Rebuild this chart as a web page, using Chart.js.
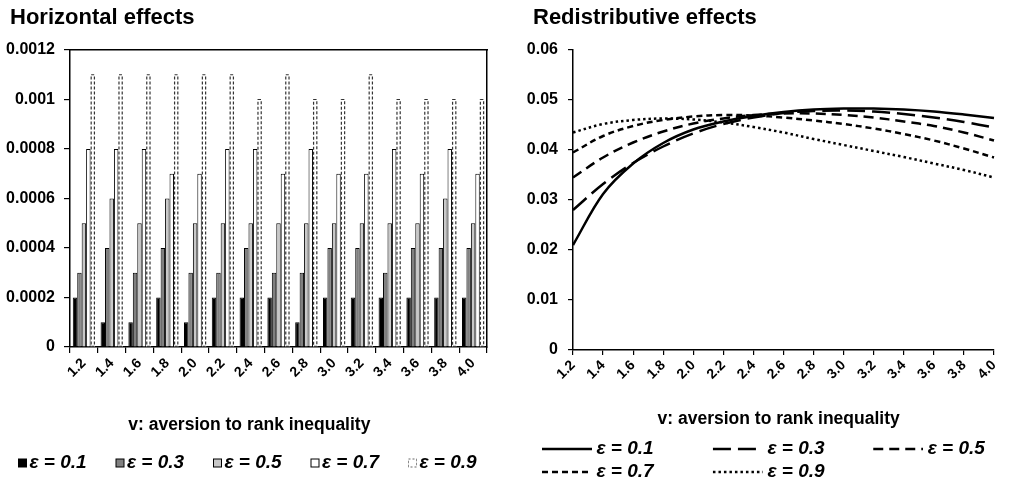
<!DOCTYPE html>
<html>
<head>
<meta charset="utf-8">
<script src="https://cdn.jsdelivr.net/npm/chart.js@4.4.1/dist/chart.umd.min.js"></script>
<style>
  html, body { margin: 0; padding: 0; background: #fff; overflow: hidden; }
  #wrap { position: relative; width: 1015px; height: 486px; }
  .panel { position: absolute; top: 0; height: 486px; }
  #left { left: 0; width: 510px; }
  #right { left: 510px; width: 505px; }
</style>
</head>
<body>
<div id="wrap">
  <div class="panel" id="left"><canvas id="hChart"></canvas></div>
  <div class="panel" id="right"><canvas id="rChart"></canvas></div>
</div>
<script>
// categories: v, aversion to rank inequality
const categories = ['1.2', '1.4', '1.6', '1.8', '2.0', '2.2', '2.4', '2.6', '2.8', '3.0', '3.2', '3.4', '3.6', '3.8', '4.0'];
const epsLabels = ['ε = 0.1', 'ε = 0.3', 'ε = 0.5', 'ε = 0.7', 'ε = 0.9'];

// horizontal effects (bars)
const hEps01 = [0.0002, 0.0001, 0.0001, 0.0002, 0.0001, 0.0002, 0.0002, 0.0002, 0.0001, 0.0002, 0.0002, 0.0002, 0.0002, 0.0002, 0.0002];
const hEps03 = [0.0003, 0.0004, 0.0003, 0.0004, 0.0003, 0.0003, 0.0004, 0.0003, 0.0003, 0.0004, 0.0004, 0.0003, 0.0004, 0.0004, 0.0004];
const hEps05 = [0.0005, 0.0006, 0.0005, 0.0006, 0.0005, 0.0005, 0.0005, 0.0005, 0.0005, 0.0005, 0.0005, 0.0005, 0.0005, 0.0006, 0.0005];
const hEps07 = [0.0008, 0.0008, 0.0008, 0.0007, 0.0007, 0.0008, 0.0008, 0.0007, 0.0008, 0.0007, 0.0007, 0.0008, 0.0007, 0.0008, 0.0007];
const hEps09 = [0.0011, 0.0011, 0.0011, 0.0011, 0.0011, 0.0011, 0.0010, 0.0011, 0.0010, 0.0010, 0.0011, 0.0010, 0.0010, 0.0010, 0.0010];
const hTicks = [0, 0.0002, 0.0004, 0.0006, 0.0008, 0.001, 0.0012];

// redistributive effects (lines)
const rEps01 = [0.0210, 0.0312, 0.0373, 0.0414, 0.0441, 0.0457, 0.0468, 0.0476, 0.0481, 0.0483, 0.0483, 0.0481, 0.0477, 0.0471, 0.0464];
const rEps03 = [0.0280, 0.0332, 0.0374, 0.0407, 0.0433, 0.0452, 0.0465, 0.0474, 0.0478, 0.0479, 0.0477, 0.0472, 0.0465, 0.0456, 0.0445];
const rEps05 = [0.0345, 0.0385, 0.0415, 0.0437, 0.0453, 0.0463, 0.0470, 0.0473, 0.0473, 0.0470, 0.0465, 0.0457, 0.0448, 0.0435, 0.0419];
const rEps07 = [0.0395, 0.0428, 0.0448, 0.0460, 0.0467, 0.0470, 0.0469, 0.0465, 0.0459, 0.0452, 0.0443, 0.0432, 0.0419, 0.0403, 0.0385];
const rEps09 = [0.0435, 0.0452, 0.0460, 0.0463, 0.0461, 0.0455, 0.0446, 0.0435, 0.0422, 0.0410, 0.0398, 0.0386, 0.0373, 0.0360, 0.0345];
const rTicks = [0, 0.01, 0.02, 0.03, 0.04, 0.05, 0.06];

const FONT = '"Liberation Sans", Arial, sans-serif';
Chart.defaults.font.family = FONT;
Chart.defaults.color = '#000';

const barFills = ['#000000', '#808080', '#c8c8c8', '#ffffff', '#ffffff'];
const lineDashes = [[], [18, 7], [10, 6], [6, 4], [2.5, 3]];
const lineWidths = [2.5, 2.5, 2.5, 2.5, 2.5];
const axisTitle = 'v: aversion to rank inequality';

// legend items get trailing spaces so the columns land where the original had them
const meas = document.createElement('canvas').getContext('2d');
meas.font = 'italic bold 19px ' + FONT;
function padTo(text, width) {
    const sp = meas.measureText(' ').width;
    const n = Math.max(0, Math.round((width - meas.measureText(text).width) / sp));
    return text + ' '.repeat(n);
}

function boxMarker(fill, dashed) {
    const c = document.createElement('canvas');
    c.width = 17; c.height = 11;
    const g = c.getContext('2d');
    g.fillStyle = fill;
    g.fillRect(7, 1, 9, 9);
    g.strokeStyle = dashed ? '#666' : '#000';
    g.lineWidth = 1;
    if (dashed) g.setLineDash([2, 2]);
    g.strokeRect(7.5, 1.5, 8, 8);
    return c;
}

function lineMarker(dash, width) {
    const c = document.createElement('canvas');
    c.width = 68; c.height = 8;
    const g = c.getContext('2d');
    g.strokeStyle = '#000';
    g.lineWidth = width;
    g.setLineDash(dash);
    g.beginPath();
    g.moveTo(18, 4);
    g.lineTo(68, 4);
    g.stroke();
    return c;
}

// dashed outline for the eps = 0.9 bars
const dashedBars = {
    id: 'dashedBars',
    afterDatasetsDraw(chart) {
        const meta = chart.getDatasetMeta(4);
        const ctx = chart.ctx;
        ctx.save();
        ctx.strokeStyle = '#333';
        ctx.lineWidth = 1.2;
        ctx.setLineDash([3, 2]);
        meta.data.forEach(bar => {
            const p = bar.getProps(['x', 'y', 'base', 'width'], true);
            ctx.strokeRect(p.x - p.width / 2 + 0.6, p.y, p.width - 1.2, p.base - p.y);
        });
        ctx.restore();
    }
};

// nudge the chart title right of the y-axis labels
const titleShift = {
    id: 'titleShift',
    afterLayout(chart, args, opts) {
        const t = chart.titleBlock;
        if (t && opts.dx) { t.left += opts.dx; t.right += opts.dx; }
    }
};

const tickFmt = v => String(parseFloat(Number(v).toFixed(4)));

// ---------- Horizontal effects ----------
const hMarkers = barFills.map((f, i) => boxMarker(f, i === 4));
new Chart(document.getElementById('hChart'), {
    type: 'bar',
    data: {
        labels: categories,
        datasets: [hEps01, hEps03, hEps05, hEps07, hEps09].map((d, i) => ({
            label: epsLabels[i],
            data: d,
            backgroundColor: barFills[i],
            borderColor: '#000',
            borderWidth: i === 4 ? 0 : 1,
            categoryPercentage: 0.8,
            barPercentage: 1
        }))
    },
    options: {
        responsive: true,
        maintainAspectRatio: false,
        animation: false,
        layout: { padding: { left: 5, right: 0, top: 4.3, bottom: 3.5 } },
        plugins: {
            titleShift: { dx: 5 },
            title: {
                display: true, text: 'Horizontal effects', align: 'start', color: '#000',
                font: { size: 22, weight: 'bold' }, padding: { top: 0, bottom: 9.5 }
            },
            legend: {
                position: 'bottom', align: 'start',
                labels: {
                    usePointStyle: true, pointStyleWidth: 1, padding: 14, color: '#000',
                    font: { size: 19, style: 'italic', weight: 'bold' },
                    generateLabels: chart => chart.data.datasets.map((ds, i) => ({
                        text: i < 4 ? padTo(ds.label, 75.5) : ds.label,
                        pointStyle: hMarkers[i],
                        fillStyle: ds.backgroundColor,
                        strokeStyle: '#000',
                        lineWidth: 0,
                        fontColor: '#000',
                        hidden: false,
                        datasetIndex: i
                    }))
                }
            },
            tooltip: { enabled: false }
        },
        scales: {
            x: {
                grid: { offset: true, drawOnChartArea: false, tickLength: 6, color: '#000', lineWidth: 1.2 },
                border: { color: '#000', width: 1.5 },
                ticks: { autoSkip: false, minRotation: 45, maxRotation: 45, padding: 2, color: '#000', font: { size: 14, weight: 'bold' } },
                title: { display: true, text: axisTitle + ' '.repeat(12), color: '#000', font: { size: 17.5, weight: 'bold' }, padding: { top: 0, bottom: 4 } },
                afterFit: s => { s.height = 92.5; }
            },
            xTop: {
                position: 'top',
                grid: { display: false },
                border: { display: true, color: '#000', width: 1.5 },
                ticks: { display: false },
                afterFit: s => { s.height = 9.8; }
            },
            y: {
                min: 0, max: 0.0012,
                grid: { drawOnChartArea: false, tickLength: 6, color: '#000', lineWidth: 1.2 },
                border: { color: '#000', width: 1.5 },
                ticks: { padding: 9, color: '#000', font: { size: 16, weight: 'bold' }, callback: tickFmt },
                afterBuildTicks: s => { s.ticks = hTicks.map(v => ({ value: v })); },
                afterFit: s => { s.width = 65; }
            },
            yRight: {
                position: 'right',
                grid: { display: false },
                border: { display: true, color: '#000', width: 1.5 },
                ticks: { display: false },
                afterFit: s => { s.width = 23; }
            }
        }
    },
    plugins: [dashedBars, titleShift]
});

// ---------- Redistributive effects ----------
const rMarkers = lineDashes.map((d, i) => lineMarker(d, lineWidths[i]));
const rLegendWidths = [99.5, 90.5, 0, 99.5, 0];
new Chart(document.getElementById('rChart'), {
    type: 'line',
    data: {
        labels: categories,
        datasets: [rEps01, rEps03, rEps05, rEps07, rEps09].map((d, i) => ({
            label: epsLabels[i],
            data: d,
            borderColor: '#000',
            borderWidth: lineWidths[i],
            borderDash: lineDashes[i],
            pointRadius: 0,
            tension: 0.35,
            fill: false
        }))
    },
    options: {
        responsive: true,
        maintainAspectRatio: false,
        animation: false,
        layout: { padding: { left: 15, right: 0, top: 4.3, bottom: -5.5 } },
        plugins: {
            titleShift: { dx: 8 },
            title: {
                display: true, text: 'Redistributive effects', align: 'start', color: '#000',
                font: { size: 22, weight: 'bold' }, padding: { top: 0, bottom: 19.3 }
            },
            legend: {
                position: 'bottom', align: 'start',
                labels: {
                    usePointStyle: true, pointStyleWidth: 58, padding: 4, color: '#000',
                    font: { size: 19, style: 'italic', weight: 'bold' },
                    generateLabels: chart => chart.data.datasets.map((ds, i) => ({
                        text: rLegendWidths[i] ? padTo(ds.label, rLegendWidths[i]) : ds.label,
                        pointStyle: rMarkers[i],
                        fillStyle: '#000',
                        strokeStyle: '#000',
                        lineWidth: 0,
                        fontColor: '#000',
                        hidden: false,
                        datasetIndex: i
                    }))
                }
            },
            tooltip: { enabled: false }
        },
        scales: {
            x: {
                offset: false,
                grid: { offset: false, drawOnChartArea: false, tickLength: 5, color: '#000', lineWidth: 1.2 },
                border: { color: '#000', width: 1.5 },
                ticks: { autoSkip: false, minRotation: 45, maxRotation: 45, padding: 2, color: '#000', font: { size: 14, weight: 'bold' } },
                title: { display: true, text: axisTitle + '  ', color: '#000', font: { size: 17.5, weight: 'bold' }, padding: { top: 0, bottom: 6 } },
                afterFit: s => { s.height = 85.5; }
            },
            y: {
                min: 0, max: 0.06,
                grid: { drawOnChartArea: false, tickLength: 5, color: '#000', lineWidth: 1.2 },
                border: { color: '#000', width: 1.5 },
                ticks: { padding: 10, color: '#000', font: { size: 16, weight: 'bold' }, callback: tickFmt },
                afterBuildTicks: s => { s.ticks = rTicks.map(v => ({ value: v })); },
                afterFit: s => { s.width = 48; }
            },
            yRight: {
                position: 'right',
                grid: { display: false },
                border: { display: false },
                ticks: { display: false },
                afterFit: s => { s.width = 21; }
            }
        }
    },
    plugins: [titleShift]
});
</script>
</body>
</html>
